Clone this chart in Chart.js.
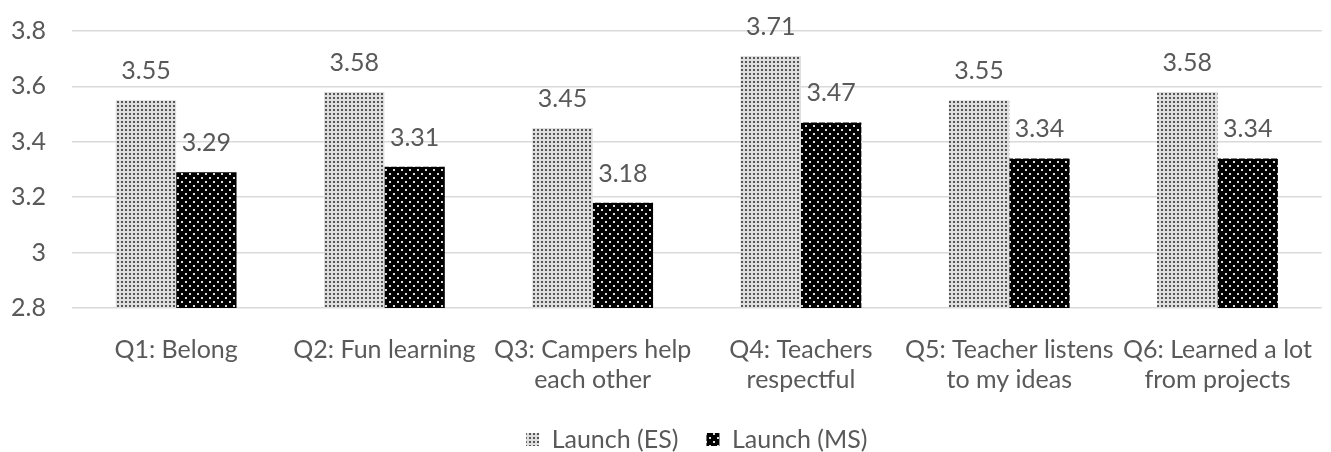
<!DOCTYPE html>
<html>
<head>
<meta charset="utf-8">
<script src="https://cdn.jsdelivr.net/npm/chart.js@4"></script>
<style>
  html, body { margin: 0; padding: 0; background: #fff; }
  #wrap { width: 1331px; height: 452px; }
</style>
</head>
<body>
<div id="wrap"><canvas id="c" width="1331" height="452"></canvas></div>
<script>
const categories = [
  "Q1: Belong",
  "Q2: Fun learning",
  ["Q3: Campers help", "each other"],
  ["Q4: Teachers", "respectful"],
  ["Q5: Teacher listens", "to my ideas"],
  ["Q6: Learned a lot", "from projects"]
];
const seriesNames = ["Launch (ES)", "Launch (MS)"];
const launchES = [3.55, 3.58, 3.45, 3.71, 3.55, 3.58];
const launchMS = [3.29, 3.31, 3.18, 3.47, 3.34, 3.34];
const yMin = 2.8, yMax = 3.8, yStep = 0.2;

function makePattern(w, h, bg, fg, dots) {
  const c = document.createElement('canvas');
  c.width = w; c.height = h;
  const g = c.getContext('2d');
  g.fillStyle = bg; g.fillRect(0, 0, w, h);
  g.fillStyle = fg;
  dots.forEach(d => g.fillRect(d[0], d[1], d[2], d[3]));
  return g.createPattern(c, 'repeat');
}
const ctx = document.getElementById('c').getContext('2d');
const patES = makePattern(4, 4, '#dedede', '#555555', [[1, 1, 2, 2]]);
const patMS = makePattern(8, 8, '#000000', '#dcdcdc', [[1, 1, 2, 2], [5, 5, 2, 2]]);

const FONT = 'Lato';
const GREY = '#595959';

const dataLabels = {
  id: 'dataLabels',
  afterDatasetsDraw(chart) {
    const c = chart.ctx;
    c.save();
    c.font = '25px ' + FONT;
    c.fillStyle = GREY;
    c.textAlign = 'center';
    c.textBaseline = 'alphabetic';
    chart.data.datasets.forEach((ds, i) => {
      chart.getDatasetMeta(i).data.forEach((el, j) => {
        c.fillText(ds.data[j].toFixed(2), el.x, el.y - 21);
      });
    });
    c.restore();
  }
};

new Chart(ctx, {
  type: 'bar',
  data: {
    labels: categories,
    datasets: [
      { label: seriesNames[0], data: launchES, backgroundColor: patES, borderWidth: 0 },
      { label: seriesNames[1], data: launchMS, backgroundColor: patMS, borderWidth: 0 }
    ]
  },
  options: {
    responsive: false,
    animation: false,
    devicePixelRatio: 1,
    datasets: { bar: { categoryPercentage: 0.58, barPercentage: 1.0 } },
    layout: { padding: { top: 31, left: 0, right: 0, bottom: -10 } },
    plugins: {
      tooltip: { enabled: false },
      legend: {
        position: 'bottom',
        fullSize: false,
        labels: {
          boxWidth: 13, boxHeight: 13, padding: 28,
          color: GREY,
          font: { family: FONT, size: 25 }
        }
      }
    },
    scales: {
      x: {
        grid: { display: false },
        border: { display: false },
        ticks: {
          color: GREY, padding: 19, maxRotation: 0, autoSkip: false,
          font: { family: FONT, size: 25, lineHeight: 1.2 }
        },
        afterFit(s) { s.height = 91; }
      },
      y: {
        min: yMin, max: yMax,
        grid: { color: '#d9d9d9', lineWidth: 1.5, drawTicks: false },
        border: { display: false },
        ticks: {
          stepSize: yStep, color: GREY, padding: 26,
          font: { family: FONT, size: 25, lineHeight: 0.3 },
          callback: (v) => String(+Number(v).toFixed(1))
        },
        afterFit(s) { s.width = 72; }
      }
    }
  },
  plugins: [dataLabels]
});
</script>
</body>
</html>
